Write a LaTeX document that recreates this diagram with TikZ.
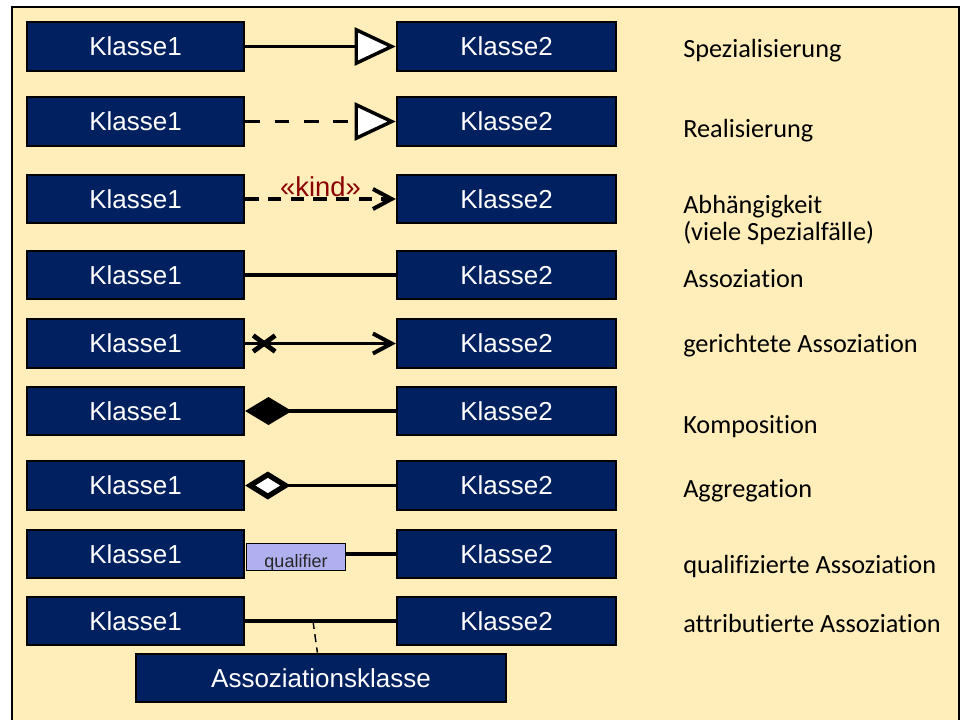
\documentclass[tikz,border=0pt]{standalone}
\usepackage{fontspec}
\setmainfont{Liberation Sans}
\newfontfamily\labelfont[Ligatures=NoCommon]{Carlito}
\usetikzlibrary{arrows.meta,calc}
\definecolor{bgyellow}{HTML}{FFEDBA}
\definecolor{navy}{HTML}{002060}
\definecolor{qualfill}{HTML}{B0B0EE}
\definecolor{stereo}{HTML}{8B0000}

\begin{document}
\begin{tikzpicture}[x=0.75pt,y=-0.75pt,
  clsa/.style={draw=black, line width=1.5pt, fill=navy, text=white, inner sep=0pt,
    minimum width=163pt, minimum height=36.5pt, font=\fontsize{19.5}{22}\selectfont},
  clsb/.style={clsa, minimum width=164.5pt},
  desc/.style={anchor=base west, inner sep=0pt, align=left,
    font=\labelfont\fontsize{19.7}{20.25}\selectfont},
  conn/.style={line width=2.6pt},
  gentip/.style={-{Triangle[fill=white, length=31pt, width=28.5pt]}},
  opentip/.style={-{Straight Barb[length=14pt, width=15pt, line width=3pt]}},
]
\clip (0,0) rectangle (961,719);
\useasboundingbox (0,0) rectangle (961,719);

% frame
\fill[bgyellow] (12,7) rectangle (959,730);
\draw[line width=1.8pt] (12,730) -- (12,7) -- (959,7) -- (959,730);

% class boxes
\foreach \i/\y in {1/46.5,2/121.5,3/199,4/275,5/343.5,6/411,7/485.5,8/554,9/621}{
  \node[clsa] (a\i) at (135.5,\y) {Klasse1};
  \node[clsb] (b\i) at (506.5,\y) {Klasse2};
}
\node[clsa, minimum width=277.5pt] (ak) at (321,678) {Assoziationsklasse};

% Spezialisierung
\draw[conn, gentip] (a1) -- (b1);
% Realisierung
\draw[conn, dash pattern=on 11pt off 11pt, gentip] (a2) -- (b2);
% Abhaengigkeit
\draw[conn, dash pattern=on 10pt off 7pt, opentip] (a3) --
  node[above, inner sep=0.5pt, text=stereo, font=\fontsize{20.5}{23}\selectfont] (st) {«kind»} (b3);
% Assoziation
\draw[line width=2.4pt] (a4) -- (b4);
% gerichtete Assoziation
\draw[line width=2.3pt, opentip] (a5) -- (b5);
\coordinate (x5) at ($(a5.east)+(19,0)$);
\draw[line width=3.6pt] ($(x5)+(-11,-8)$) -- ($(x5)+(11,8)$);
\draw[line width=3.6pt] ($(x5)+(-11,8)$) -- ($(x5)+(11,-8)$);
% Komposition
\draw[line width=2.4pt, {Turned Square[length=35pt, width=21pt]}-] (a6) -- (b6);
% Aggregation
\draw[line width=2.6pt, {Turned Square[fill=white, length=34pt, width=21pt, line width=4pt]}-] (a7) -- (b7);
% qualifizierte Assoziation
\node[draw=black, line width=1pt, fill=qualfill, inner sep=0pt, minimum width=74pt,
  minimum height=20pt, text height=15pt, text depth=0pt, text=black!85,
  font=\fontsize{13.5}{15}\selectfont] (q) at (296,557) {qualifier\hspace{9pt}};
\draw[line width=2.4pt] (q.east |- b8.west) -- (b8.west);
% attributierte Assoziation
\draw[line width=2.4pt] (a9) -- (b9);
\coordinate (m9) at ($(a9.east)!0.45!(b9.west)$);
\draw[line width=1.1pt, dash pattern=on 6pt off 4pt] (m9) -- (ak);

% descriptions
\node[desc] (d1) at (683,57) {Spezialisierung};
\node[desc] (d2) at (683,137) {Realisierung};
\node[desc] (d3) at (683,240) {Abhängigkeit\\(viele Spezialfälle)};
\node[desc] (d4) at (683,287) {Assoziation};
\node[desc] (d5) at (683,352) {gerichtete Assoziation};
\node[desc] (d6) at (683,433) {Komposition};
\node[desc] (d7) at (683,497) {Aggregation};
\node[desc] (d8) at (683,573) {qualifizierte Assoziation};
\node[desc] (d9) at (683,632) {attributierte Assoziation};
\end{tikzpicture}
\end{document}
